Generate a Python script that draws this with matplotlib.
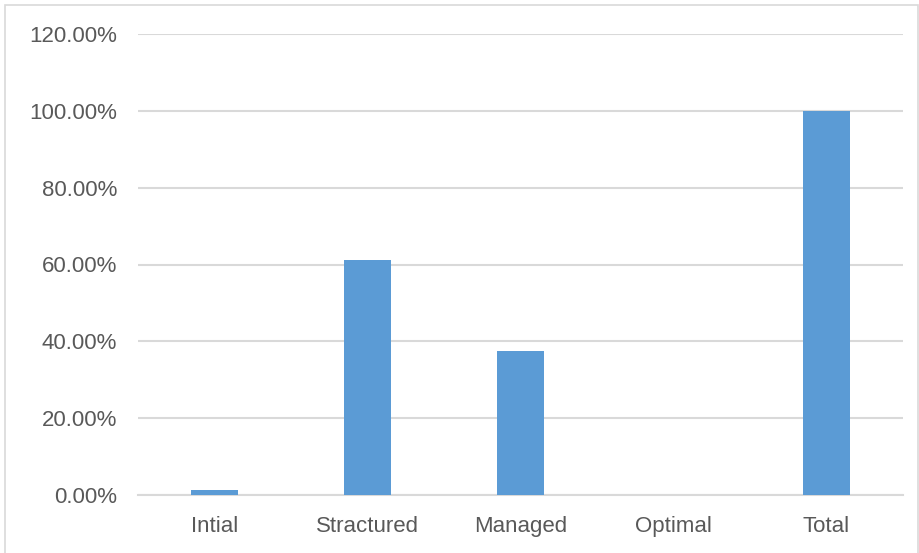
import matplotlib.pyplot as plt
from matplotlib.patches import Rectangle
from matplotlib.ticker import FuncFormatter

# niveles de madurez y su porcentaje
categorias = ["Intial", "Stractured", "Managed", "Optimal", "Total"]
porcentajes = [1.25, 61.25, 37.5, 0.0, 100.0]

plt.rcParams['font.family'] = ['Liberation Sans', 'DejaVu Sans']

fig = plt.figure(figsize=(9.2, 5.53), dpi=100)
ax = fig.add_axes([138/920, 1-495/553, 765/920, 461/553])

# marco gris alrededor del grafico
fig.patches.append(Rectangle((5/920, -0.05), 913/920, 1.05 - 5/553, transform=fig.transFigure,
                             fill=False, edgecolor='#d9d9d9', linewidth=1.2))

x = range(len(categorias))
ax.bar(x, porcentajes, width=0.31, color='#5b9bd5', zorder=3)

ax.set_xlim(-0.5, len(categorias) - 0.5)
ax.set_ylim(0, 120)
ax.set_yticks(range(0, 121, 20))
ax.yaxis.set_major_formatter(FuncFormatter(lambda v, p: f"{v:.2f}%"))
ax.set_xticks(list(x))
ax.set_xticklabels(categorias)

ax.grid(axis='y', color='#d9d9d9', linewidth=1.5, zorder=0)
for lado in ['top', 'right', 'left']:
    ax.spines[lado].set_visible(False)
ax.spines['bottom'].set_color('#d9d9d9')
ax.spines['bottom'].set_linewidth(1.5)
ax.tick_params(length=0, labelsize=16, colors='#595959')
ax.tick_params(axis='y', pad=15)
ax.tick_params(axis='x', pad=15)

plt.savefig("out.png", dpi=100)
